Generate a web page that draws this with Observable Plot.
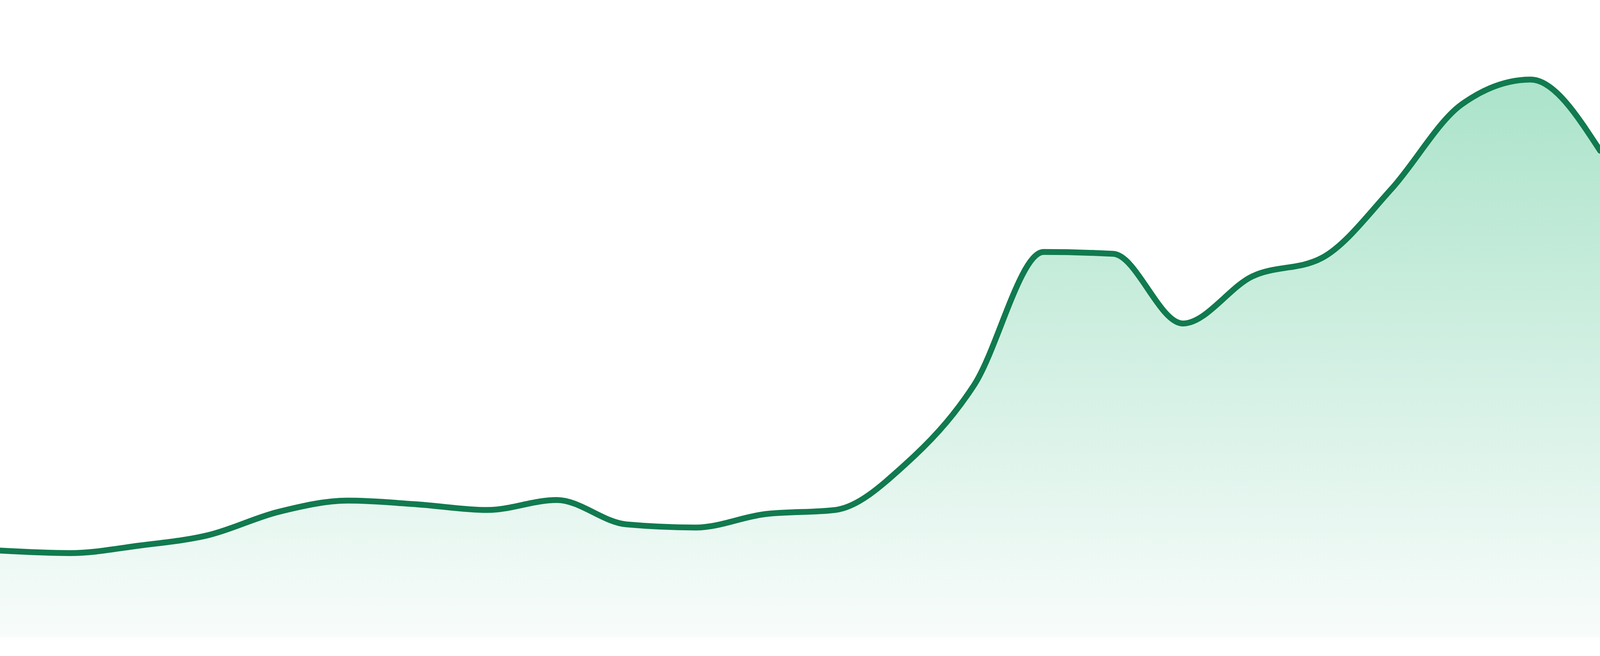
<!DOCTYPE html>
<html>
<head>
<meta charset="utf-8">
<script src="https://cdn.jsdelivr.net/npm/d3@7"></script>
<script src="https://cdn.jsdelivr.net/npm/@observablehq/plot@0.6"></script>
<style>
  html, body { margin: 0; padding: 0; background: #ffffff; overflow: hidden; }
  #chart svg { display: block; }
</style>
</head>
<body>
<div id="chart"></div>
<script>
// Series values (arbitrary units, 0 = baseline), one per evenly spaced step
const steps = d3.range(24);
const values = [13.9, 13.5, 14.7, 16.4, 20.1, 21.9, 21.3, 20.4, 22.0, 18.1, 17.6, 19.75,
                20.4, 27.6, 40.4, 61.7, 61.4, 50.25, 57.8, 60.75, 71.8, 85.25, 89.3, 77.9];

const lineColor = "#117a4f";
const gradTop = "#abe3ca";
const gradBottom = "#f8fcfb";

const data = steps.map((s, i) => ({step: s, value: values[i]}));

// Fill the whole browser window (falls back to 4800x1680)
const W = window.innerWidth || 4800;
const H = window.innerHeight || 1680;
const k = H / 1680;

const chart = Plot.plot({
  width: W,
  height: H,
  marginLeft: 0,
  marginRight: 0,
  marginTop: 32 * k,
  marginBottom: 48 * k,
  x: {domain: [0, steps.length - 1], axis: null},
  y: {domain: [0, 100], axis: null},
  style: {background: "#ffffff"},
  marks: [
    Plot.areaY(data, {x: "step", y: "value", curve: "monotone-x", fill: "url(#areaGrad)"}),
    Plot.lineY(data, {x: "step", y: "value", curve: "monotone-x", stroke: lineColor, strokeWidth: 15 * k})
  ]
});

const svg = d3.select(chart);
const defs = svg.insert("defs", ":first-child");
const grad = defs.append("linearGradient")
  .attr("id", "areaGrad")
  .attr("x1", 0).attr("y1", 0).attr("x2", 0).attr("y2", 1);
grad.append("stop").attr("offset", "0%").attr("stop-color", gradTop);
grad.append("stop").attr("offset", "100%").attr("stop-color", gradBottom);

document.getElementById("chart").appendChild(chart);
</script>
</body>
</html>
